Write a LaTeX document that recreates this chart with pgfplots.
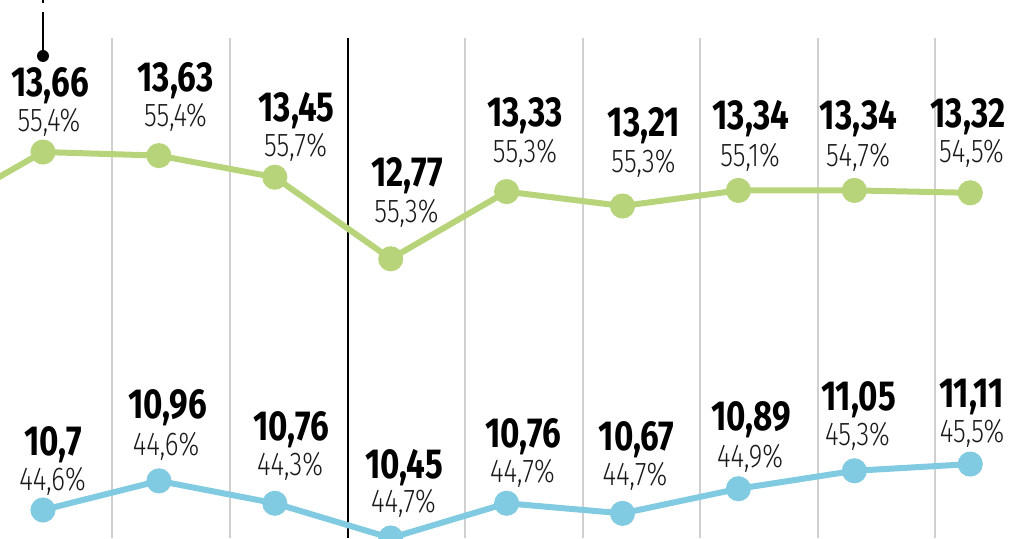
\documentclass[border=0pt]{standalone}
\usepackage{pgfplots}
\pgfplotsset{compat=1.18}
\usepackage{fontspec}
\setmainfont{Fira Sans}
\newfontfamily\bfont{Fira Sans Bold}
\newfontfamily\lfont{Fira Sans Light}
\definecolor{cgreen}{RGB}{183,212,122}
\definecolor{cblue}{RGB}{128,202,226}
\definecolor{cgrid}{RGB}{208,208,208}
\newcommand\lab[6]{%
  \node[anchor=base,inner sep=0pt] at ({#1*1pt},{(538-#2)*1pt}) {\scalebox{0.79}[1]{\fontsize{42}{43}\bfont #3}};
  \node[anchor=base,inner sep=0pt,text=black!90] at ({#4*1pt},{(538-#5)*1pt}) {\scalebox{0.79}[1]{\fontsize{33}{34}\lfont #6}};
}
\begin{document}
\begin{tikzpicture}
% vertical separators
\foreach \gx in {112,230,465,583,700,818,935}{
  \draw[cgrid, line width=1.5pt] ({\gx*1pt},0) -- ({\gx*1pt},500pt);
}
\draw[black, line width=2pt] (348pt,0) -- (348pt,500pt);
% leader line
\draw[black, line width=1.5pt] (43pt,538pt) -- (43pt,535pt);
\draw[black, line width=1.5pt] (43pt,526pt) -- (43pt,484pt);
\fill[black] (43pt,482pt) circle (6pt);
% green series
\begin{axis}[at={(0,0)}, anchor=south west, scale only axis,
  width=1024pt, height=538pt, xmin=-0.371, xmax=8.464,
  ymin=10.443, ymax=14.927, hide axis, clip marker paths=true]
\addplot[cgreen, line width=6pt] coordinates {(-1,13.11) (0,13.66)};
\addplot[cgreen, line width=6pt, mark=*, mark size=9.5pt,
  mark options={fill=cgreen, draw=none}] coordinates {
(0,13.66) (1,13.63) (2,13.45) (3,12.77) (4,13.33) (5,13.21) (6,13.34) (7,13.34) (8,13.32)};
\end{axis}
% blue series
\begin{axis}[at={(0,0)}, anchor=south west, scale only axis,
  width=1024pt, height=538pt, xmin=-0.371, xmax=8.464,
  ymin=10.45, ymax=15.254, hide axis, clip marker paths=true]
\addplot[cblue, line width=6pt, mark=*, mark size=9.5pt,
  mark options={fill=cblue, draw=none}] coordinates {
(0,10.7) (1,10.96) (2,10.76) (3,10.45) (4,10.76) (5,10.67) (6,10.89) (7,11.05) (8,11.11)};
\end{axis}
% labels: green
\lab{50}{97}{13,66}{49}{132}{55,4\%}
\lab{175.5}{92}{13,63}{175.5}{127}{55,4\%}
\lab{296.5}{122}{13,45}{295.5}{157}{55,7\%}
\lab{407}{187}{12,77}{406.5}{223}{55,3\%}
\lab{525}{127}{13,33}{525}{163}{55,3\%}
\lab{644}{137}{13,21}{643.5}{173}{55,3\%}
\lab{751}{130}{13,34}{750}{167}{55,1\%}
\lab{858.5}{130}{13,34}{858}{167}{54,7\%}
\lab{968}{128}{13,32}{971.5}{163}{54,5\%}
% labels: blue
\lab{53.5}{455}{10,7}{52.5}{490}{44,6\%}
\lab{167.5}{418}{10,96}{166}{455}{44,6\%}
\lab{291.5}{440}{10,76}{290}{475}{44,3\%}
\lab{404}{478}{10,45}{403.5}{512}{44,7\%}
\lab{523.5}{447}{10,76}{522.5}{482}{44,7\%}
\lab{636.5}{450}{10,67}{635}{485}{44,7\%}
\lab{751}{430}{10,89}{750}{467}{44,9\%}
\lab{858.5}{410}{11,05}{857.5}{445}{45,3\%}
\lab{971.5}{407}{11,11}{972}{442}{45,5\%}
\pgfresetboundingbox
\path[use as bounding box] (0,0) rectangle (1024pt,538pt);
\end{tikzpicture}
\end{document}
